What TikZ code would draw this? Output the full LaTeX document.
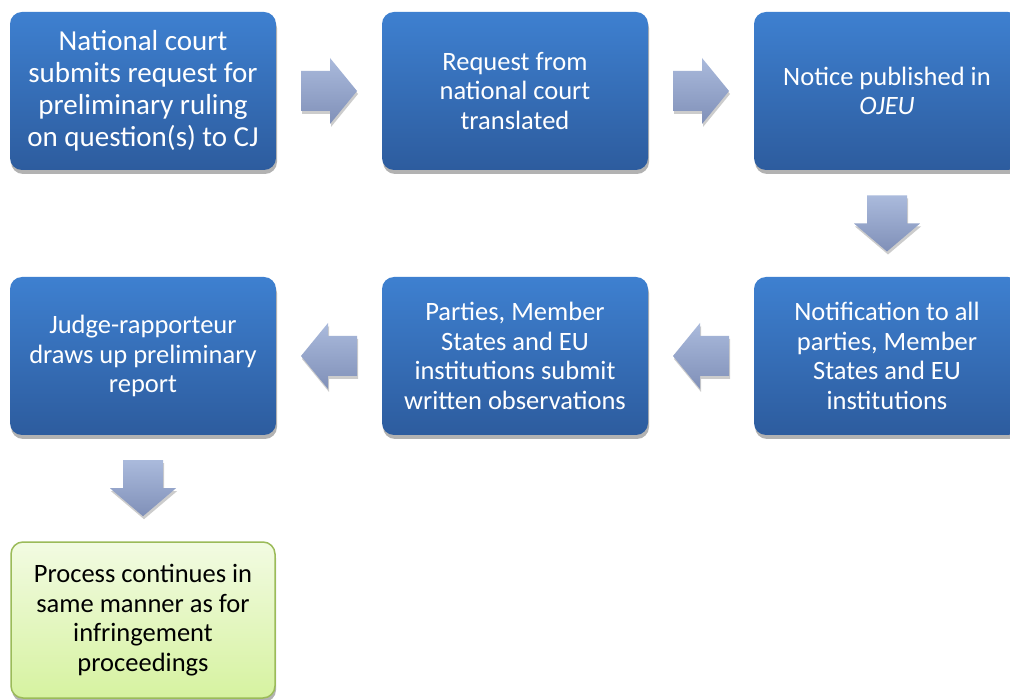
\documentclass[tikz,border=0pt]{standalone}
\usepackage{fontspec}
\setmainfont{Carlito}
\usetikzlibrary{shadows,calc}
\definecolor{boxtop}{RGB}{62,128,208}
\definecolor{boxbot}{RGB}{45,92,158}
\definecolor{arrtop}{RGB}{170,186,220}
\definecolor{arrbot}{RGB}{128,144,184}
\definecolor{grtop}{RGB}{242,251,226}
\definecolor{grbot}{RGB}{214,242,160}
\definecolor{grline}{RGB}{155,187,89}
\tikzset{
  bluebox/.style={rectangle, rounded corners=12pt, minimum width=266pt, minimum height=158pt,
    top color=boxtop, bottom color=boxbot, draw=none, text=white, align=center,
    font=\fontsize{26.5}{29.5}\selectfont,
    drop shadow={shadow xshift=1pt, shadow yshift=-4pt, opacity=0.3, fill=black}},
  greenbox/.style={rectangle, rounded corners=12pt, minimum width=264pt, minimum height=156pt,
    top color=grtop, bottom color=grbot, draw=grline, line width=1.5pt, text=black, align=center,
    font=\fontsize{26.5}{29.5}\selectfont,
    drop shadow={shadow xshift=1pt, shadow yshift=-4pt, opacity=0.3, fill=black}},
  blockarrow/.style={top color=arrtop, bottom color=arrbot, draw=none,
    drop shadow={shadow xshift=1pt, shadow yshift=-3pt, opacity=0.2, fill=black}}
}
\newcommand\arrowright[1]{\path[blockarrow] ($(#1)+(-28,-20)$) -- ($(#1)+(1,-20)$) -- ($(#1)+(1,-33)$) -- ($(#1)+(28,0)$) -- ($(#1)+(1,33)$) -- ($(#1)+(1,20)$) -- ($(#1)+(-28,20)$) -- cycle;}
\newcommand\arrowleft[1]{\path[blockarrow] ($(#1)+(28,-20)$) -- ($(#1)+(-1,-20)$) -- ($(#1)+(-1,-33)$) -- ($(#1)+(-28,0)$) -- ($(#1)+(-1,33)$) -- ($(#1)+(-1,20)$) -- ($(#1)+(28,20)$) -- cycle;}
\newcommand\arrowdown[1]{\path[blockarrow] ($(#1)+(-20,-28)$) -- ($(#1)+(-20,0)$) -- ($(#1)+(-33,0)$) -- ($(#1)+(0,28)$) -- ($(#1)+(33,0)$) -- ($(#1)+(20,0)$) -- ($(#1)+(20,-28)$) -- cycle;}
\begin{document}
\begin{tikzpicture}[x=1pt,y=-1pt]
\useasboundingbox (0,0) rectangle (1010,700);
\clip (0,0) rectangle (1010,700);
\fill[white] (0,0) rectangle (1010,700);
\node[bluebox, font=\fontsize{29}{32}\selectfont] (n1) at (143,91) {National court\\submits request for\\preliminary ruling\\on question(s) to CJ};
\node[bluebox] (n2) at (515,91) {Request from\\national court\\translated};
\node[bluebox] (n3) at (887,91) {Notice published in\\\textit{OJEU}};
\node[bluebox] (n6) at (887,356) {Notification to all\\parties, Member\\States and EU\\institutions};
\node[bluebox] (n5) at (515,356) {Parties, Member\\States and EU\\institutions submit\\written observations};
\node[bluebox] (n4) at (143,356) {Judge-rapporteur\\draws up preliminary\\report};
\node[greenbox] (n7) at (143,620) {Process continues in\\same manner as for\\infringement\\proceedings};
\coordinate (a12) at ($(n1.east)!0.5!(n2.west)$);
\coordinate (a23) at ($(n2.east)!0.5!(n3.west)$);
\coordinate (a36) at ($(n3.south)!0.5!(n6.north)$);
\coordinate (a65) at ($(n6.west)!0.5!(n5.east)$);
\coordinate (a54) at ($(n5.west)!0.5!(n4.east)$);
\coordinate (a47) at ($(n4.south)!0.5!(n7.north)$);
\arrowright{a12}
\arrowright{a23}
\arrowdown{a36}
\arrowleft{a65}
\arrowleft{a54}
\arrowdown{a47}
\end{tikzpicture}
\end{document}
